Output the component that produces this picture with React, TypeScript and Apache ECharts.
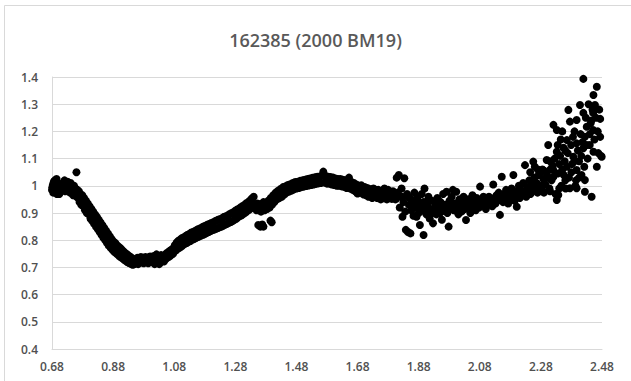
import React, { useEffect, useRef } from "react";
import * as echarts from "echarts";

const titleText = "162385 (2000 BM19)";
const xTicks = { min: 0.68, max: 2.48, step: 0.2 };
const yTicks = { min: 0.4, max: 1.4, step: 0.1 };

const segFlatStart: number[][] = [
  [0.680,0.985],[0.681,0.995],[0.683,1.005],[0.684,0.975],[0.686,1.015],[0.688,0.99],[0.689,1.02],[0.691,0.98],[0.693,1.0],[0.695,1.025],[0.696,0.97],[0.698,1.01],[0.700,0.985],[0.702,0.995],[0.704,0.97],[0.706,1.005],[0.708,0.985],[0.711,1.0],[0.713,0.99],[0.716,1.01],[0.718,0.995],[0.721,1.02],[0.723,0.98],[0.726,1.005],[0.728,0.99],[0.731,1.015],[0.734,0.985],[0.736,1.0],[0.739,0.975],[0.741,1.01],[0.744,0.98],[0.747,0.995],[0.749,0.965],[0.752,1.0],[0.754,0.975],[0.757,0.99],[0.760,1.05],[0.761,0.96],[0.763,0.985],[0.766,0.955],
];

const segDecline: number[][] = [
  [0.768,0.98],[0.770,0.94],[0.773,0.97],[0.776,0.93],[0.779,0.965],[0.782,0.925],[0.785,0.955],[0.788,0.91],[0.791,0.945],[0.794,0.9],[0.797,0.935],[0.800,0.895],[0.803,0.925],[0.806,0.88],[0.809,0.915],[0.812,0.87],[0.815,0.905],[0.818,0.86],[0.821,0.895],[0.824,0.85],[0.827,0.885],[0.830,0.84],[0.833,0.875],[0.836,0.83],[0.839,0.865],[0.842,0.82],[0.845,0.855],[0.848,0.81],[0.851,0.845],[0.854,0.8],[0.857,0.835],[0.860,0.79],[0.863,0.825],[0.866,0.78],[0.869,0.815],[0.872,0.772],[0.875,0.805],[0.878,0.765],[0.881,0.795],[0.884,0.757],[0.887,0.79],[0.890,0.752],[0.893,0.782],[0.896,0.746],[0.899,0.775],[0.902,0.74],[0.905,0.77],[0.908,0.735],[0.911,0.762],[0.914,0.73],[0.917,0.756],[0.920,0.725],[0.923,0.75],[0.926,0.72],[0.929,0.745],[0.932,0.716],[0.935,0.74],[0.938,0.713],[0.941,0.735],[0.944,0.71],[0.947,0.73],
];

const segMinimum: number[][] = [
  [0.950,0.712],[0.953,0.73],[0.956,0.718],[0.959,0.735],[0.962,0.712],[0.965,0.73],[0.968,0.718],[0.971,0.738],[0.974,0.72],[0.977,0.733],[0.980,0.715],[0.983,0.73],[0.986,0.738],[0.989,0.72],[0.992,0.733],[0.995,0.715],[0.998,0.73],[1.001,0.74],[1.004,0.72],[1.007,0.735],[1.010,0.722],[1.013,0.742],[1.016,0.712],[1.019,0.73],[1.022,0.748],[1.025,0.718],[1.028,0.738],[1.031,0.712],[1.034,0.728],[1.037,0.745],[1.040,0.728],[1.043,0.74],[1.046,0.722],[1.049,0.745],[1.052,0.73],[1.055,0.752],[1.058,0.736],[1.061,0.757],[1.064,0.74],[1.067,0.762],[1.070,0.745],[1.073,0.767],[1.076,0.75],[1.079,0.772],
];

const segRise: number[][] = [
  [1.082,0.782],[1.085,0.762],[1.088,0.792],[1.091,0.768],[1.094,0.798],[1.097,0.772],[1.100,0.803],[1.103,0.777],[1.106,0.808],[1.109,0.782],[1.112,0.811],[1.115,0.787],[1.118,0.816],[1.121,0.79],[1.124,0.82],[1.127,0.794],[1.130,0.823],[1.133,0.797],[1.136,0.828],[1.139,0.802],[1.142,0.83],[1.145,0.804],[1.148,0.834],[1.151,0.808],[1.154,0.838],[1.157,0.812],[1.160,0.841],[1.163,0.814],[1.166,0.844],[1.169,0.818],[1.172,0.848],[1.175,0.82],[1.178,0.851],[1.181,0.824],[1.184,0.854],[1.187,0.827],[1.190,0.858],[1.193,0.83],[1.196,0.86],[1.199,0.834],[1.202,0.863],[1.205,0.837],[1.208,0.866],[1.211,0.839],[1.214,0.87],[1.217,0.842],[1.220,0.873],[1.223,0.845],[1.226,0.876],[1.229,0.848],[1.232,0.878],[1.235,0.85],[1.238,0.882],[1.241,0.854],[1.244,0.886],[1.247,0.858],[1.250,0.888],[1.253,0.86],[1.256,0.892],[1.259,0.864],[1.262,0.896],[1.265,0.867],[1.268,0.9],[1.271,0.87],[1.274,0.903],[1.277,0.875],[1.280,0.908],[1.283,0.879],[1.286,0.913],[1.289,0.884],[1.292,0.916],[1.295,0.889],[1.298,0.921],[1.301,0.892],[1.304,0.926],[1.307,0.897],[1.310,0.93],[1.313,0.902],[1.316,0.936],[1.319,0.907],[1.322,0.94],[1.325,0.912],[1.328,0.946],[1.331,0.917],[1.334,0.953],[1.337,0.922],[1.340,0.96],[1.343,0.927],
  [1.355,0.856],[1.362,0.85],[1.368,0.858],[1.372,0.85],[1.395,0.872],[1.399,0.866],
];

const segPlateau: number[][] = [
  [1.346,0.93],[1.349,0.91],[1.352,0.935],[1.356,0.912],[1.360,0.932],[1.364,0.905],[1.368,0.928],[1.372,0.94],[1.376,0.91],[1.380,0.935],[1.384,0.915],[1.388,0.945],[1.392,0.92],[1.396,0.955],[1.400,0.93],[1.404,0.965],[1.408,0.94],[1.412,0.975],[1.416,0.95],[1.420,0.982],[1.424,0.955],[1.428,0.988],[1.432,0.96],[1.436,0.995],[1.440,0.968],
  [1.444,0.998],[1.448,0.975],[1.452,1.003],[1.456,0.979],[1.460,1.006],[1.464,0.983],[1.468,1.01],[1.472,0.987],[1.476,1.014],[1.480,0.99],[1.484,1.015],[1.488,0.992],[1.492,1.018],[1.496,0.995],[1.500,1.02],[1.504,0.997],[1.508,1.022],[1.512,0.999],[1.516,1.025],[1.520,1.001],[1.524,1.027],[1.528,1.003],[1.532,1.029],[1.536,1.005],[1.540,1.031],[1.544,1.007],[1.548,1.033],[1.552,1.009],[1.556,1.034],[1.560,1.01],[1.564,1.038],[1.568,1.052],[1.572,1.012],[1.576,1.036],[1.580,1.008],[1.584,1.033],[1.588,1.008],[1.592,1.032],[1.596,1.005],[1.600,1.03],[1.604,1.003],[1.608,1.027],[1.612,1.0],[1.616,1.025],[1.620,1.0],[1.624,1.025],[1.628,0.998],[1.632,1.022],[1.636,0.996],[1.640,1.02],[1.644,0.992],[1.648,1.016],[1.652,1.03],[1.656,0.99],[1.660,1.014],[1.664,0.985],[1.668,1.01],[1.672,0.98],[1.676,1.005],[1.680,0.972],
  [1.684,1.0],[1.688,0.975],[1.692,1.002],[1.696,0.978],[1.700,0.968],[1.704,0.995],[1.708,0.965],[1.712,0.992],[1.716,0.96],[1.720,0.988],[1.724,0.968],[1.728,0.955],[1.732,0.99],[1.736,0.962],[1.740,0.985],[1.744,0.955],[1.748,0.985],[1.752,0.962],[1.756,0.95],[1.760,0.98],[1.764,0.958],[1.768,0.99],[1.772,0.965],[1.776,0.95],[1.780,0.985],[1.784,0.958],[1.788,0.978],[1.792,0.952],[1.796,0.98],[1.800,0.958],
];

const segScatter: number[][] = [
  [1.804,0.95],[1.808,1.03],[1.812,0.975],[1.815,1.04],[1.818,0.92],[1.820,0.96],[1.824,0.99],[1.827,0.886],[1.830,0.94],[1.833,1.028],[1.836,0.905],[1.838,0.838],[1.842,0.97],[1.845,0.83],[1.848,0.93],[1.850,0.955],[1.853,0.825],[1.856,0.91],[1.860,0.945],[1.863,0.89],[1.866,0.975],[1.870,0.92],[1.873,0.886],[1.876,0.95],[1.880,0.9],[1.884,0.856],[1.886,0.935],[1.890,0.97],[1.893,0.91],[1.896,0.819],[1.899,0.99],[1.902,0.94],[1.905,0.895],[1.909,0.925],[1.912,0.96],[1.916,0.88],[1.920,0.915],[1.923,0.945],[1.927,0.862],[1.930,0.905],[1.934,0.935],[1.938,0.895],[1.941,0.955],[1.945,0.92],[1.949,0.899],[1.952,0.94],[1.956,0.875],[1.960,0.97],[1.963,0.915],[1.967,0.93],[1.971,0.978],[1.974,0.9],[1.978,0.85],[1.981,0.945],[1.985,0.92],[1.988,0.96],[1.992,0.985],[1.995,0.91],[1.999,0.935],[2.003,0.978],[2.006,0.92],[2.010,0.895],[2.013,0.95],[2.017,0.93],[2.020,0.905],[2.024,0.945],[2.027,0.96],[2.031,0.915],[2.035,0.874],[2.038,0.935],[2.042,0.95],[2.045,0.92],[2.049,0.9],[2.052,0.94],[2.056,0.965],[2.060,0.925],[2.063,0.945],[2.067,0.91],[2.070,0.955],[2.074,0.935],[2.078,0.92],[2.081,0.997],[2.085,0.95],[2.088,0.93],[2.092,0.96],[2.096,0.94],[2.100,0.915],
  [1.885,0.92],[1.895,0.94],[1.905,0.93],[1.915,0.91],[1.925,0.9],[1.935,0.92],[1.945,0.945],[1.955,0.905],[1.865,0.93],[1.875,0.96],[1.845,0.96],[1.825,0.96],
];

const segUpturn: number[][] = [
  [2.103,0.945],[2.107,0.93],[2.110,0.96],[2.114,0.94],[2.117,0.95],[2.121,0.925],[2.124,1.005],[2.128,0.955],[2.131,0.935],[2.135,0.965],[2.138,0.945],[2.142,0.975],[2.146,0.893],[2.149,0.955],[2.152,1.033],[2.156,0.94],[2.159,0.97],[2.163,0.95],[2.166,0.985],[2.170,0.96],[2.173,0.935],[2.177,0.975],[2.180,0.955],[2.184,0.99],[2.187,0.965],[2.190,1.04],[2.194,0.945],[2.197,0.98],[2.201,0.923],[2.204,0.97],[2.208,1.0],[2.211,0.955],[2.215,0.985],[2.218,0.965],[2.222,1.01],[2.225,0.975],[2.228,1.076],[2.232,0.96],[2.235,0.995],[2.239,0.98],[2.242,1.02],[2.246,0.97],[2.249,1.0],[2.253,0.985],[2.255,1.089],[2.259,1.03],[2.262,0.99],[2.266,1.01],[2.269,0.975],[2.273,1.04],[2.277,1.046],[2.280,1.0],[2.284,0.985],[2.288,1.025],[2.291,1.055],[2.295,1.005],[2.299,1.095],[2.302,1.03],[2.304,1.15],[2.308,0.99],[2.311,1.06],[2.315,1.02],[2.318,1.075],[2.321,1.224],[2.321,1.033],[2.325,1.1],[2.328,0.97],[2.332,1.205],[2.332,1.125],[2.332,0.948],[2.335,1.045],[2.337,0.966],[2.340,1.08],[2.343,1.11],[2.347,1.0],[2.350,1.06],[2.354,1.14],[2.358,1.09],[2.361,0.99],[2.365,1.168],[2.365,1.07],[2.368,1.12],[2.370,1.279],[2.372,1.03],[2.375,1.236],[2.375,0.991],[2.379,1.15],[2.382,1.08],[2.386,1.107],[2.390,1.2],[2.393,1.0],[2.397,1.242],[2.397,1.156],[2.397,1.058],[2.397,0.991],[2.401,1.13],[2.405,1.09],[2.408,1.297],[2.410,1.19],[2.413,1.04],[2.416,1.16],[2.419,1.393],[2.419,1.268],[2.419,1.138],[2.422,1.07],[2.424,1.18],[2.424,1.021],[2.424,0.978],[2.427,1.25],[2.430,1.217],[2.433,1.1],[2.436,1.3],[2.440,1.15],[2.443,1.23],[2.446,0.96],[2.449,1.28],[2.451,1.268],[2.451,1.205],[2.452,1.334],[2.452,1.125],[2.455,1.17],[2.457,1.297],[2.460,1.25],[2.463,1.364],[2.463,1.07],[2.466,1.2],[2.468,1.12],[2.471,1.28],[2.474,1.246],[2.474,1.18],[2.477,1.11],[2.479,1.107],
  [2.245,1.05],[2.26,1.07],[2.27,1.0],[2.285,1.06],[2.3,1.04],[2.31,1.09],[2.32,1.06],[2.335,1.15],[2.345,1.17],[2.355,1.04],[2.36,1.13],[2.38,1.05],[2.39,1.09],[2.35,1.2],[2.385,1.18],[2.412,1.11],[2.43,1.15],[2.44,1.19],[2.445,1.24],[2.395,1.02],[2.405,1.03],[2.36,1.02],[2.34,0.99],[2.31,0.98],[2.29,0.975],[2.27,1.06],[2.25,1.02],
];

const allPoints = [
  ...segFlatStart,
  ...segDecline,
  ...segMinimum,
  ...segRise,
  ...segPlateau,
  ...segScatter,
  ...segUpturn,
];

const FONT = "'Open Sans', 'Noto Sans', sans-serif";
const TEXT_COLOR = "#505050";

export default function App() {
  const ref = useRef<HTMLDivElement>(null);
  useEffect(() => {
    if (!ref.current) return;
    const chart = echarts.init(ref.current, null, { renderer: "svg" });
    chart.setOption({
      animation: false,
      backgroundColor: "#ffffff",
      title: {
        text: titleText,
        left: "center",
        top: 26,
        textStyle: { fontFamily: FONT, fontSize: 18, fontWeight: 600, color: "#595959" },
      },
      graphic: [
        {
          type: "rect",
          shape: { x: 4.5, y: 5.5, width: 700, height: 500 },
          style: { fill: "none", stroke: "#d9d9d9", lineWidth: 1 },
          silent: true,
        },
      ],
      grid: { left: 52, right: 29, top: 77, bottom: 32 },
      xAxis: {
        type: "value",
        min: xTicks.min,
        max: xTicks.max,
        interval: xTicks.step,
        splitLine: { show: false },
        axisLine: { show: true, lineStyle: { color: "#d9d9d9", width: 1 } },
        axisTick: { show: false },
        axisLabel: {
          margin: 11,
          color: TEXT_COLOR,
          fontFamily: FONT,
          fontSize: 12,
          fontWeight: 600,
          formatter: (v: number) => v.toFixed(2),
        },
      },
      yAxis: {
        type: "value",
        min: yTicks.min,
        max: yTicks.max,
        interval: yTicks.step,
        splitLine: { show: true, lineStyle: { color: "#d9d9d9", width: 1 } },
        axisLine: { show: true, lineStyle: { color: "#d9d9d9", width: 1 } },
        axisTick: { show: false },
        axisLabel: {
          margin: 14,
          color: TEXT_COLOR,
          fontFamily: FONT,
          fontSize: 12,
          fontWeight: 600,
          formatter: (v: number) => String(parseFloat(v.toFixed(1))),
        },
      },
      series: [
        {
          type: "scatter",
          data: allPoints,
          symbol: "circle",
          symbolSize: 8,
          itemStyle: { color: "#000000", opacity: 1 },
        },
      ],
    });
    return () => chart.dispose();
  }, []);
  return (
    <div
      ref={ref}
      style={{ position: "absolute", left: 0, top: 0, width: 631, height: 381 }}
    />
  );
}
